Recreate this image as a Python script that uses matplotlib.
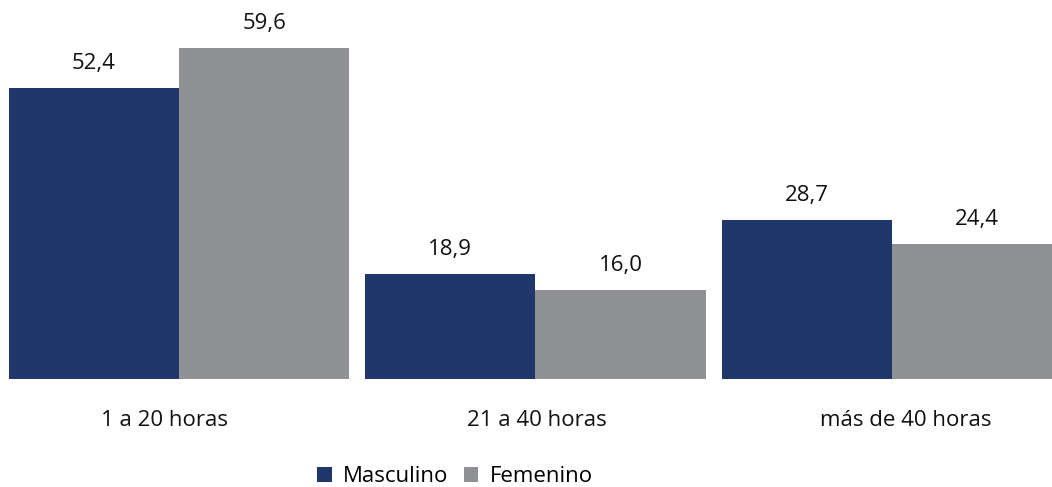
import matplotlib
matplotlib.use('Agg')
import matplotlib.pyplot as plt
import numpy as np

categorias = ['1 a 20 horas', '21 a 40 horas', 'más de 40 horas']
masculino = [52.4, 18.9, 28.7]
femenino = [59.6, 16.0, 24.4]

AZUL = '#1f376b'
GRIS = '#909195'

plt.rcParams['font.family'] = ['Open Sans', 'DejaVu Sans']


def fmt(v):
    return f'{v:.1f}'.replace('.', ',')


def main():
    fig = plt.figure(figsize=(10.52, 4.87), dpi=100)
    ax = fig.add_axes([0, 108 / 487, 1, 379 / 487])

    x = np.arange(len(categorias))
    w = 0.478
    b1 = ax.bar(x - w / 2, masculino, w, color=AZUL, label='Masculino')
    b2 = ax.bar(x + w / 2, femenino, w, color=GRIS, label='Femenino')

    for bars, vals in ((b1, masculino), (b2, femenino)):
        for rect, v in zip(bars, vals):
            ax.annotate(fmt(v), (rect.get_x() + rect.get_width() / 2, v),
                        xytext=(0, 10), textcoords='offset points',
                        ha='center', va='bottom', fontsize=16, color='#111111')

    label_dx = [-0.04, 0.005, 0.04]
    for xi, cat, dx in zip(x, categorias, label_dx):
        ax.text(xi + dx, -41 / 379 * 68.3, cat, ha='center', va='center',
                fontsize=16, color='#111111')

    ax.set_xlim(-0.502, 2.449)
    ax.set_ylim(0, 68.3)
    ax.axis('off')

    fig.legend(loc='center', bbox_to_anchor=(455 / 1052, 1 - 477 / 487),
               ncol=2, frameon=False, fontsize=16, handlelength=0.65,
               handleheight=0.65, handletextpad=0.5, columnspacing=0.7)

    fig.savefig('out.png', dpi=100)


if __name__ == "__main__":
    main()
